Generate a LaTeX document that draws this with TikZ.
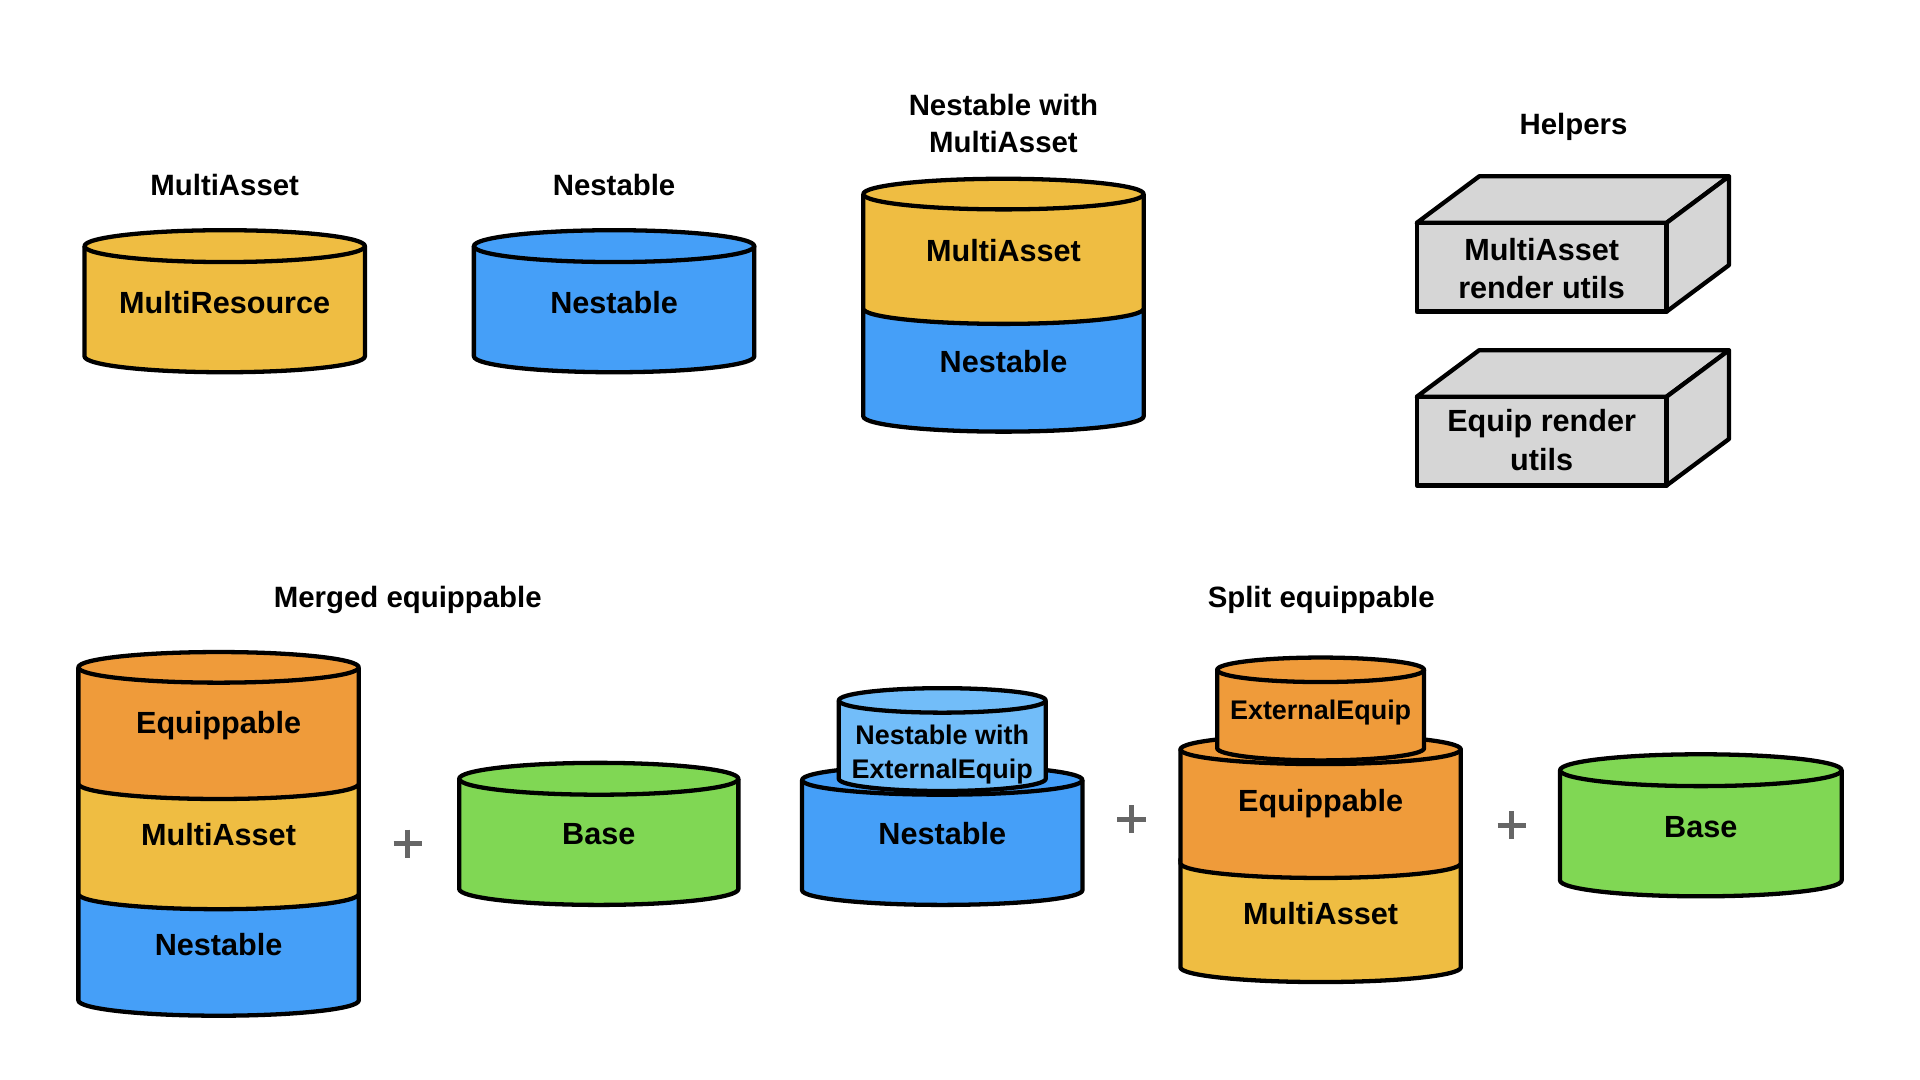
\documentclass[tikz,border=0pt]{standalone}
\usepackage{fontspec}
\setmainfont{Liberation Sans}
\definecolor{cyellow}{HTML}{EFBD42}
\definecolor{cblue}{HTML}{459FF8}
\definecolor{corange}{HTML}{EF9B3A}
\definecolor{cgreen}{HTML}{80D754}
\definecolor{clblue}{HTML}{72BDF9}
\definecolor{cgray}{HTML}{D6D6D6}
\definecolor{plusgray}{HTML}{666666}
\tikzset{
  cylline/.style={line width=3.5pt, draw=black, line join=round},
  boxline/.style={line width=3.5pt, draw=black, fill=cgray, line join=round},
  lbl/.style={font=\fontsize{25}{30}\selectfont\bfseries, text height=18pt, text depth=0pt, inner sep=0pt},
  slbl/.style={font=\fontsize{22}{27}\selectfont\bfseries, text height=15.8pt, text depth=0pt, inner sep=0pt},
  ttl/.style={font=\fontsize{24}{30}\selectfont\bfseries, text height=17pt, text depth=0pt, inner sep=0pt},
  plusline/.style={line width=4pt, draw=plusgray},
}
% x1 x2 ytop ybot ry colour
\newcommand\mycyl[6]{%
  \pgfmathsetmacro\cylrx{(#2-#1)/2}%
  \pgfmathsetmacro\cylcx{(#2+#1)/2}%
  \fill[#6] (#1,#3) -- (#1,#4) arc[start angle=180,end angle=360,x radius=\cylrx pt,y radius=#5pt] -- (#2,#3) -- cycle;
  \draw[cylline] (#1,#3) -- (#1,#4) arc[start angle=180,end angle=360,x radius=\cylrx pt,y radius=#5pt] -- (#2,#3);
  \draw[cylline, fill=#6] (\cylcx,#3) ellipse[x radius=\cylrx pt, y radius=#5pt];
}
% x1 x2 ytop ybot dx dy
\newcommand\mybox[6]{%
  \draw[boxline] (#1,#3) -- ++(#5,-#6) -- (#2+#5,#3-#6) -- (#2,#3) -- cycle;
  \draw[boxline] (#2,#3) -- (#2+#5,#3-#6) -- (#2+#5,#4-#6) -- (#2,#4) -- cycle;
  \draw[boxline] (#1,#3) rectangle (#2,#4);
}
\newcommand\myplus[2]{%
  \draw[plusline] (#1-11.5,#2) -- (#1+11.5,#2);
  \draw[plusline] (#1,#2-11.5) -- (#1,#2+11.5);
}
\begin{document}
\begin{tikzpicture}[x=1pt,y=-1pt]
\useasboundingbox (0,0) rectangle (1568,882);

% ---------- top row ----------
\node[ttl] (tMA) at (183.5,151) {MultiAsset};
\mycyl{69}{298}{201}{291}{13}{cyellow}
\node[lbl] (lMR) at (183.5,247) {MultiResource};

\node[ttl] (tN) at (501.5,151) {Nestable};
\mycyl{387}{616}{201}{291}{13}{cblue}
\node[lbl] (lN) at (501.5,247) {Nestable};

\node[ttl] (tNW1) at (819.5,86) {Nestable with};
\node[ttl] (tNW2) at (819.5,116) {MultiAsset};
\mycyl{705}{934}{249}{340}{12.5}{cblue}
\mycyl{705}{934}{158.5}{252}{12.5}{cyellow}
\node[lbl] (lNW1) at (819.5,204.5) {MultiAsset};
\node[lbl] (lNW2) at (819.5,295) {Nestable};

\node[ttl] (tH) at (1285,101) {Helpers};
\mybox{1157}{1361}{182}{254.5}{51}{38}
\node[lbl] (lH1a) at (1259,204) {MultiAsset};
\node[lbl] (lH1b) at (1259,235) {render utils};
\mybox{1157}{1361}{324}{396.5}{51}{38}
\node[lbl] (lH2a) at (1259,343.5) {Equip render};
\node[lbl] (lH2b) at (1259,375) {utils};

% ---------- merged equippable ----------
\node[ttl] (tME) at (333,488) {Merged equippable};
\mycyl{64}{293}{727}{817}{12.5}{cblue}
\mycyl{64}{293}{637}{730}{12.5}{cyellow}
\mycyl{64}{293}{545}{640}{12.5}{corange}
\node[lbl] (lME1) at (178.5,590) {Equippable};
\node[lbl] (lME2) at (178.5,681.5) {MultiAsset};
\node[lbl] (lME3) at (178.5,771) {Nestable};

\myplus{333}{689}
\mycyl{375}{603}{636}{726}{13}{cgreen}
\node[lbl] (lB1) at (489,680.5) {Base};

% ---------- split equippable ----------
\mycyl{655}{884}{637}{727}{12}{cblue}
\mycyl{685}{854}{572}{636}{10}{clblue}
\node[slbl] (lNE1) at (769.5,600.5) {Nestable with};
\node[slbl] (lNE2) at (769.5,628) {ExternalEquip};
\node[lbl] (lNE3) at (769.5,680.5) {Nestable};

\myplus{924}{669}

\node[ttl] (tSE) at (1079,488) {Split equippable};
\mycyl{964}{1193}{702}{790}{12}{cyellow}
\mycyl{964}{1193}{612}{705}{12}{corange}
\mycyl{994}{1163}{547}{611}{10}{corange}
\node[slbl] (lSE1) at (1078.5,580) {ExternalEquip};
\node[lbl] (lSE2) at (1078.5,654) {Equippable};
\node[lbl] (lSE3) at (1078.5,746) {MultiAsset};

\myplus{1234.5}{674}
\mycyl{1274}{1504}{629}{719}{13}{cgreen}
\node[lbl] (lB2) at (1389,675) {Base};
\end{tikzpicture}
\end{document}
